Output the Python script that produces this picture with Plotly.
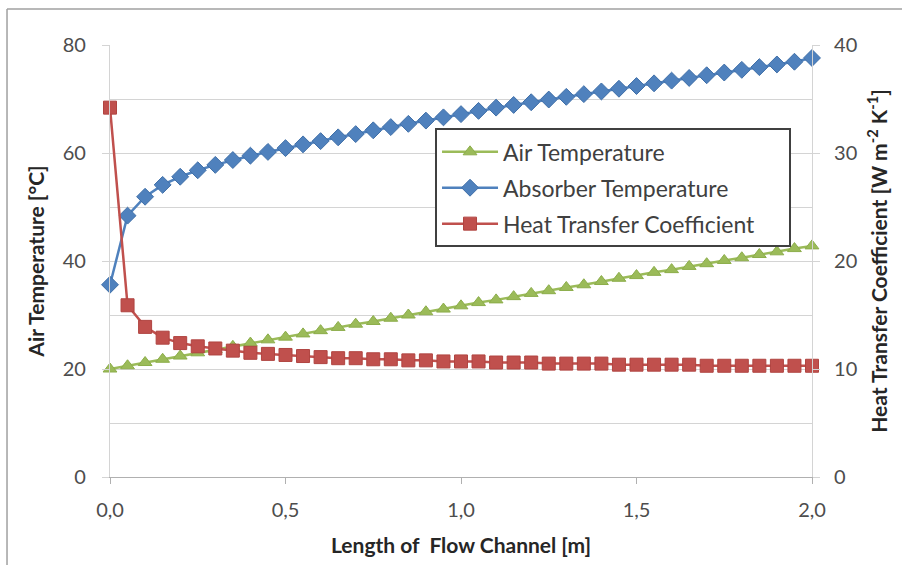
import plotly.graph_objects as go

# Data
length_m = [0.0, 0.05, 0.1, 0.15, 0.2, 0.25, 0.3, 0.35, 0.4, 0.45, 0.5,
            0.55, 0.6, 0.65, 0.7, 0.75, 0.8, 0.85, 0.9, 0.95, 1.0,
            1.05, 1.1, 1.15, 1.2, 1.25, 1.3, 1.35, 1.4, 1.45, 1.5,
            1.55, 1.6, 1.65, 1.7, 1.75, 1.8, 1.85, 1.9, 1.95, 2.0]

air_temp = [20.0, 20.6, 21.2, 21.8, 22.4, 23.0, 23.6, 24.2, 24.8, 25.4, 25.9,
            26.5, 27.1, 27.7, 28.3, 28.8, 29.4, 30.0, 30.6, 31.1, 31.7,
            32.3, 32.8, 33.4, 34.0, 34.5, 35.1, 35.6, 36.2, 36.8, 37.3,
            37.9, 38.4, 39.0, 39.5, 40.1, 40.6, 41.2, 41.7, 42.3, 42.8]

absorber_temp = [35.6, 48.4, 51.9, 54.1, 55.6, 56.8, 57.8, 58.7, 59.5, 60.2, 60.9,
                 61.6, 62.2, 62.9, 63.5, 64.2, 64.8, 65.4, 66.0, 66.6, 67.2,
                 67.8, 68.4, 68.9, 69.4, 69.9, 70.4, 70.9, 71.4, 71.9, 72.4,
                 72.9, 73.4, 73.9, 74.4, 74.9, 75.4, 75.9, 76.4, 76.9, 77.6]

heat_transfer = [34.2, 15.9, 13.9, 12.9, 12.4, 12.1, 11.9, 11.7, 11.5, 11.4, 11.3,
                 11.2, 11.1, 11.0, 11.0, 10.9, 10.9, 10.8, 10.8, 10.7, 10.7,
                 10.7, 10.6, 10.6, 10.6, 10.5, 10.5, 10.5, 10.5, 10.4, 10.4,
                 10.4, 10.4, 10.4, 10.3, 10.3, 10.3, 10.3, 10.3, 10.3, 10.3]

x_ticks = [0.0, 0.5, 1.0, 1.5, 2.0]
left_ticks = [0, 20, 40, 60, 80]
right_ticks = [0, 10, 20, 30, 40]

FONT = "Lato"
TICK_COLOR = "#4d4d4d"
TITLE_COLOR = "#262626"
GRID = "#d4d4d4"
AXIS = "#b0b0b0"

fig = go.Figure()

fig.add_trace(go.Scatter(
    x=length_m, y=air_temp, name="Air Temperature", legendgroup="a",
    mode="lines+markers", cliponaxis=False,
    line=dict(color="#9bbb59", width=2.5),
    marker=dict(symbol="triangle-up", size=12, color="#9bbb59",
                line=dict(color="#8cad4a", width=1)),
))
fig.add_trace(go.Scatter(
    x=length_m, y=absorber_temp, name="Absorber Temperature", legendgroup="b",
    mode="lines+markers", cliponaxis=False,
    line=dict(color="#4f81bd", width=2.5),
    marker=dict(symbol="diamond", size=13, color="#4f81bd",
                line=dict(color="#3f6fa8", width=1)),
))
fig.add_trace(go.Scatter(
    x=length_m, y=heat_transfer,
    name="Heat Transfer Coefficient\u00a0\u00a0\u00a0\u00a0\u00a0", legendgroup="c",
    mode="lines+markers", cliponaxis=False, yaxis="y2",
    line=dict(color="#c0504d", width=2.5),
    marker=dict(symbol="square", size=13, color="#c0504d",
                line=dict(color="#b04440", width=1)),
))

fig.update_layout(
    width=902, height=565,
    margin=dict(l=110, r=90, t=45, b=88),
    paper_bgcolor="white", plot_bgcolor="white",
    separators=",.",
    font=dict(family=FONT, size=20, color=TICK_COLOR),
    showlegend=True,
    legend=dict(
        x=0.463, y=0.807, xanchor="left", yanchor="top",
        bgcolor="white", bordercolor="#404040", borderwidth=2,
        font=dict(family=FONT, size=23, color="#404040"),
        itemwidth=56, traceorder="grouped", tracegroupgap=3,
    ),
    xaxis=dict(
        range=[0, 2], tickvals=x_ticks, tickformat=".1f",
        showgrid=False, zeroline=False, automargin=False,
        showline=True, linecolor=AXIS, linewidth=1.2,
        ticks="outside", ticklen=6, tickcolor=AXIS,
        ticklabelstandoff=9,
        tickfont=dict(family=FONT, size=20, color=TICK_COLOR),
        title=dict(text="<b>Length of  Flow Channel [m]</b>", standoff=18,
                   font=dict(family=FONT, size=21, color=TITLE_COLOR)),
    ),
    yaxis=dict(
        range=[0, 80], tickvals=left_ticks, automargin=False,
        showgrid=True, gridcolor=GRID, gridwidth=1.2, zeroline=False,
        minor=dict(dtick=10, showgrid=True, gridcolor=GRID, gridwidth=1.2),
        showline=True, linecolor=GRID, linewidth=1.2,
        ticks="outside", ticklen=7, tickcolor=GRID,
        ticklabelstandoff=12,
        tickfont=dict(family=FONT, size=20, color=TICK_COLOR),
        title=dict(text="<b>Air Temperature [°C]</b>", standoff=12,
                   font=dict(family=FONT, size=21, color=TITLE_COLOR)),
    ),
    yaxis2=dict(
        range=[0, 40], tickvals=right_ticks, overlaying="y", side="right",
        showgrid=False, zeroline=False, automargin=False,
        showline=True, linecolor=GRID, linewidth=1.2,
        ticks="outside", ticklen=7, tickcolor=GRID,
        ticklabelstandoff=10,
        tickfont=dict(family=FONT, size=20, color=TICK_COLOR),
        title=dict(text="<b>Heat Transfer Coefficient [W m<sup>-2</sup> K<sup>-1</sup>]</b>",
                   standoff=15,
                   font=dict(family=FONT, size=21, color=TITLE_COLOR)),
    ),
    shapes=[
        dict(type="line", xref="paper", yref="paper", x0=-0.1467, x1=1.3,
             y0=1.0833, y1=1.0833, line=dict(color="#a0a0a0", width=1.5)),
        dict(type="line", xref="paper", yref="paper", x0=-0.1467, x1=-0.1467,
             y0=1.0833, y1=-0.4, line=dict(color="#a0a0a0", width=1.5)),
    ],
)

fig.write_html("out.html", config={"displayModeBar": False},
               post_script="document.body.style.margin='0px';")
